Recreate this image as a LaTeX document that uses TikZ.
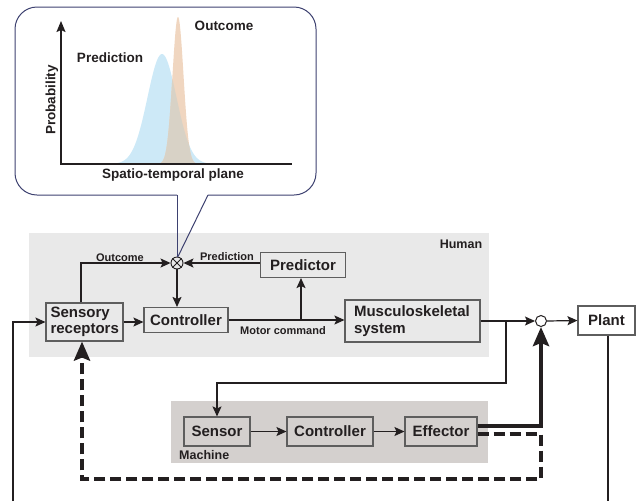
\documentclass[tikz,border=0pt]{standalone}
\usepackage{fontspec}
\setmainfont{Liberation Sans}
\usetikzlibrary{arrows.meta}
\definecolor{ink}{HTML}{231F20}
\definecolor{humanbg}{HTML}{E9E9E9}
\definecolor{machbg}{HTML}{D4D0CE}
\definecolor{boxline}{HTML}{5E5E5E}
\definecolor{calloutc}{HTML}{3D4170}
\definecolor{predblue}{HTML}{CDE9F7}
\definecolor{outorange}{HTML}{F0D6C0}
\definecolor{overlapc}{HTML}{D8D2C6}
\tikzset{
  box/.style={draw=boxline, line width=1.1pt, inner sep=0pt, text=ink,
    font=\fontsize{15}{16.5}\selectfont\bfseries},
  small/.style={text=ink, inner sep=0pt, font=\fontsize{11}{12}\selectfont\bfseries},
  grouplbl/.style={text=ink, inner sep=0pt, font=\fontsize{12.5}{13}\selectfont\bfseries},
  plotlbl/.style={text=ink, inner sep=0pt, font=\fontsize{13.5}{14}\selectfont\bfseries},
  arr/.style={draw=ink, line width=1.2pt, -{Stealth[length=10pt,width=9pt,inset=2pt]}},
  conn/.style={draw=ink, line width=1.2pt},
  bigarr/.style={draw=ink, line width=4pt, line join=miter,
    -{Stealth[length=19pt,width=16pt,inset=3pt]}},
  callout/.style={draw=calloutc, line width=1pt},
}
\begin{document}
\begin{tikzpicture}[x=1pt,y=-1pt]
\useasboundingbox (0,0) rectangle (636,501);

% backgrounds
\fill[humanbg] (29,233) rectangle (489,357);
\fill[machbg] (171,401) rectangle (488,463);

% callout
\coordinate (p1) at (177,195);
\coordinate (p2) at (208,195);
\draw[callout, rounded corners=22pt] (p1) -- (15,195) -- (15,7) -- (316,7) -- (316,195) -- (p2);

% distributions
\fill[predblue] plot[domain=110:214,samples=101] (\x,{164-110*exp(-((\x-162)^2)/420)}) -- cycle;
\fill[outorange] plot[domain=157:199,samples=101] (\x,{164-147*exp(-((\x-178)^2)/60.5)}) -- cycle;
\fill[overlapc] plot[domain=157:199,samples=101] (\x,{164-min(110*exp(-((\x-162)^2)/420),147*exp(-((\x-178)^2)/60.5))}) -- cycle;

% axes
\coordinate (org) at (61,164);
\coordinate (ytop) at (61,21);
\coordinate (xend) at (292,164);
\draw[draw=ink, line width=1.5pt, -{Stealth[length=11pt,width=9pt,inset=2pt]}] (org) -- (ytop);
\draw[draw=ink, line width=2.6pt] ([xshift=-0.75pt]org) -- (xend);
\node[plotlbl, rotate=90] (plab) at (52,100) {Probability};
\node[plotlbl] (stlab) at (173,175) {Spatio-temporal plane};
\node[plotlbl] (prlab) at (110,58) {Prediction};
\node[plotlbl] (oclab) at (224,26) {Outcome};

% human nodes
\node[box, fill=humanbg, text width=68pt, align=left, inner xsep=4.5pt, minimum height=38pt] (sens) at (84.5,322) {Sensory\\receptors};
\node[box, fill=humanbg, minimum width=84pt, minimum height=25pt] (ctrlH) at (186,320) {Controller};
\node[box, fill=humanbg, minimum width=85pt, minimum height=25pt] (pred) at (303,265) {Predictor};
\node[box, fill=humanbg, text width=117pt, align=left, inner xsep=9pt, minimum height=42pt] (mus) at (412.5,321) {Musculoskeletal\\system};
\node[circle, draw=ink, line width=0.9pt, minimum size=12pt, inner sep=0pt] (ox) at (177,263) {};
\draw[draw=ink, line width=0.9pt] (ox.north west) -- (ox.south east) (ox.north east) -- (ox.south west);
\node[grouplbl] (hlab) at (461,244) {Human};

% callout pointer
\draw[callout] (p1) -- (ox.north);
\draw[callout] (p2) -- ([xshift=1pt]ox.north);

% labels
\node[small] (outlbl) at (120,258) {Outcome};
\node[small] (predlbl) at (227,257) {Prediction};
\node[small] (motlbl) at (283,331) {Motor command};

% plant side
\node[circle, draw=ink, fill=white, line width=1pt, minimum size=11pt, inner sep=0pt] (sum) at (541,321) {};
\node[box, fill=white, minimum width=57pt, minimum height=29pt] (plant) at (606.5,320.5) {Plant};

% machine nodes
\node[box, fill=machbg, minimum width=66pt, minimum height=29pt] (sensor) at (217,431.5) {Sensor};
\node[box, fill=machbg, minimum width=86pt, minimum height=29pt] (ctrlM) at (330,431.5) {Controller};
\node[box, fill=machbg, minimum width=72pt, minimum height=29pt] (eff) at (441,431.5) {Effector};
\node[grouplbl, anchor=west] (mlab) at (179,455) {Machine};

% human connectors
\draw[arr] ([xshift=-3.5pt]sens.north) |- (ox.west);
\draw[arr] (ox -| pred.west) -- (ox.east);
\draw[arr] (ox.south) -- (ox.south |- ctrlH.north);
\draw[arr] (sens.east) -- (sens.east -| ctrlH.west);
\coordinate (b1) at (301,320.5);
\draw[arr] (ctrlH.east) -- (ctrlH.east -| mus.west);
\draw[arr] (b1) -- (b1 |- pred.south);
\draw[arr] (mus.east) -- (sum.west);
\draw[arr] (sum.east) -- (plant.west);

% to machine
\coordinate (b2) at (506,321);
\coordinate (c2) at (506,383);
\draw[arr] (b2) -- (c2) -| (sensor.north);
\draw[arr] (sensor.east) -- (ctrlM.west);
\draw[arr] (ctrlM.east) -- (eff.west);

% outer feedback
\coordinate (fb1) at (13,501);
\coordinate (fb2) at (608,501);
\draw[arr] (fb1) |- (sens.west);
\draw[conn] (fb2 |- plant.south) -- (fb2);

% thick machine outputs
\draw[bigarr] ([yshift=5.5pt]eff.east) -| (sum.south);
\coordinate (d1) at (541,479);
\coordinate (d2) at (82,479);
\draw[bigarr, dash pattern=on 11pt off 5pt] ([yshift=-2.5pt]eff.east) -| (d1) -- (d2) -- (d2 |- sens.south);
\end{tikzpicture}
\end{document}
